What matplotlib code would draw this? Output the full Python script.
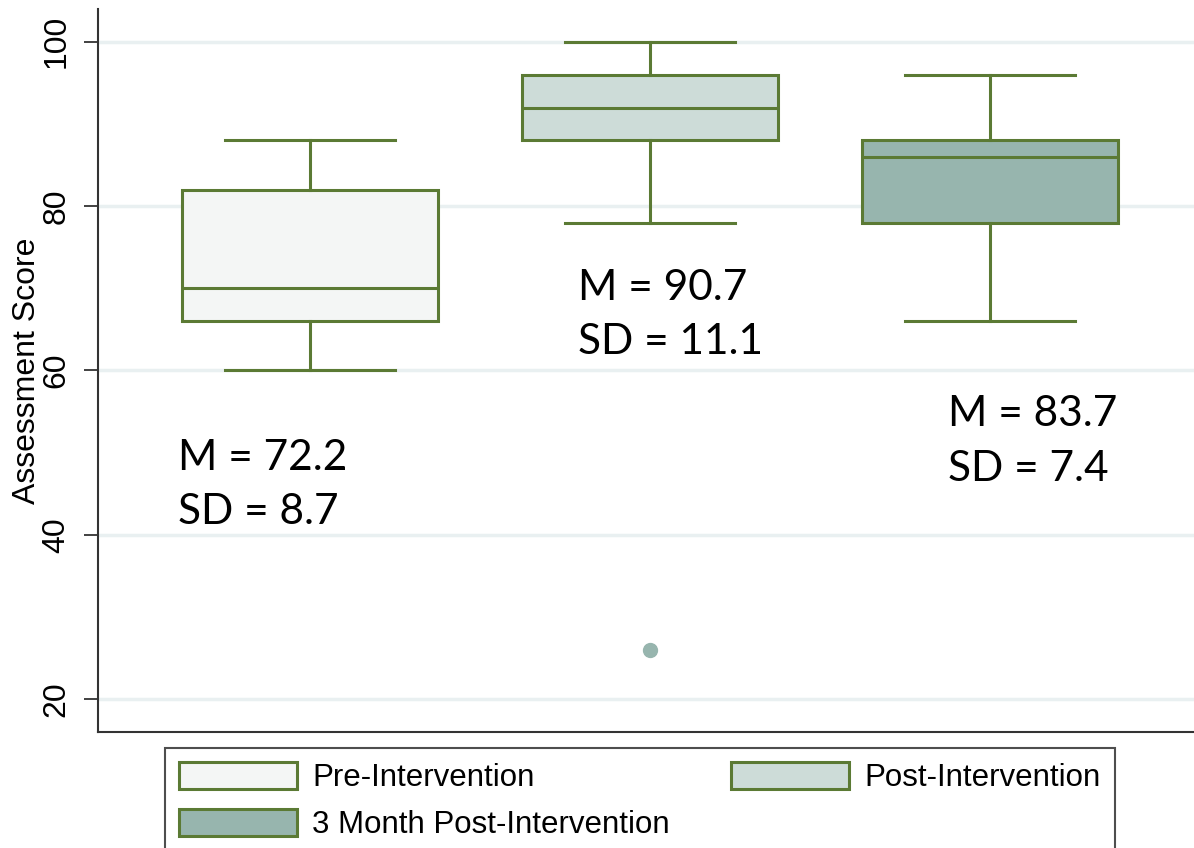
import matplotlib.pyplot as plt
from matplotlib.patches import Patch

# assessment scores summary per time point
groups = ['Pre-Intervention', 'Post-Intervention', '3 Month Post-Intervention']
whislo = [60, 78, 66]
q1 = [66, 88, 78]
med = [70, 92, 86]
q3 = [82, 96, 88]
whishi = [88, 100, 96]
outliers = [[], [26], []]
means = [72.2, 90.7, 83.7]
sds = [8.7, 11.1, 7.4]

fills = ['#f4f6f5', '#cddcd8', '#97b5ae']
edge = '#5b7a34'
grid_col = '#e9f0f1'

fig = plt.figure(figsize=(11.94, 8.48), dpi=100)
ax = fig.add_axes([0.0821, 0.1368, 0.9179, 0.8526])

stats = []
for i, g in enumerate(groups):
    stats.append(dict(label=g, whislo=whislo[i], q1=q1[i], med=med[i],
                      q3=q3[i], whishi=whishi[i], fliers=outliers[i]))

pos = [1, 2, 3]
bp = ax.bxp(stats, positions=pos, widths=0.753, patch_artist=True,
            showfliers=True, capwidths=0.5,
            boxprops=dict(edgecolor=edge, linewidth=2.2),
            medianprops=dict(color=edge, linewidth=2.2),
            whiskerprops=dict(color=edge, linewidth=2.2),
            capprops=dict(color=edge, linewidth=2.2),
            flierprops=dict(marker='o', markersize=10, markerfacecolor='#97b5ae',
                            markeredgecolor='#97b5ae', linestyle='none'),
            zorder=3)
for box, c in zip(bp['boxes'], fills):
    box.set_facecolor(c)

# mean / sd labels
txt_x = [0.612, 1.788, 2.876]
txt_y = [46.06, 66.76, 51.35]
for x, y, m, s in zip(txt_x, txt_y, means, sds):
    ax.text(x, y, f'M = {m}\nSD = {s}', ha='left', va='center',
            fontsize=30.5, family='Lato', linespacing=1.52, zorder=4)

ax.set_xlim(0.376, 3.6)
ax.set_ylim(16, 104)
ax.set_yticks([20, 40, 60, 80, 100])
ax.set_xticks([])
ax.yaxis.grid(True, color=grid_col, linewidth=2.5, zorder=0)
ax.set_axisbelow(True)

for s in ['top', 'right']:
    ax.spines[s].set_visible(False)
for s in ['left', 'bottom']:
    ax.spines[s].set_color('#333333')
    ax.spines[s].set_linewidth(1.5)

ax.tick_params(axis='y', length=10, width=1.3, color='#333333', pad=9,
               labelsize=23, labelrotation=90)
for lbl in ax.get_yticklabels():
    lbl.set_family('Liberation Sans')
    lbl.set_va('center')
ax.set_ylabel('Assessment Score', fontsize=23, family='Liberation Sans', labelpad=0)

handles = [Patch(facecolor=fills[i], edgecolor=edge, linewidth=2.2, label=groups[i])
           for i in [0, 2, 1]]
leg = fig.legend(handles=handles, ncol=2, loc='upper left',
                 bbox_to_anchor=(165 / 1194, 1 - 748 / 848),
                 prop=dict(family='Liberation Sans', size=22.5),
                 frameon=True, fancybox=False, edgecolor='#222222',
                 handlelength=3.78, handleheight=0.96, handletextpad=0.5,
                 columnspacing=1.95, labelspacing=0.5, borderpad=0.44,
                 borderaxespad=0)
leg.get_frame().set_linewidth(1.5)

fig.savefig('out.png', dpi=100)
